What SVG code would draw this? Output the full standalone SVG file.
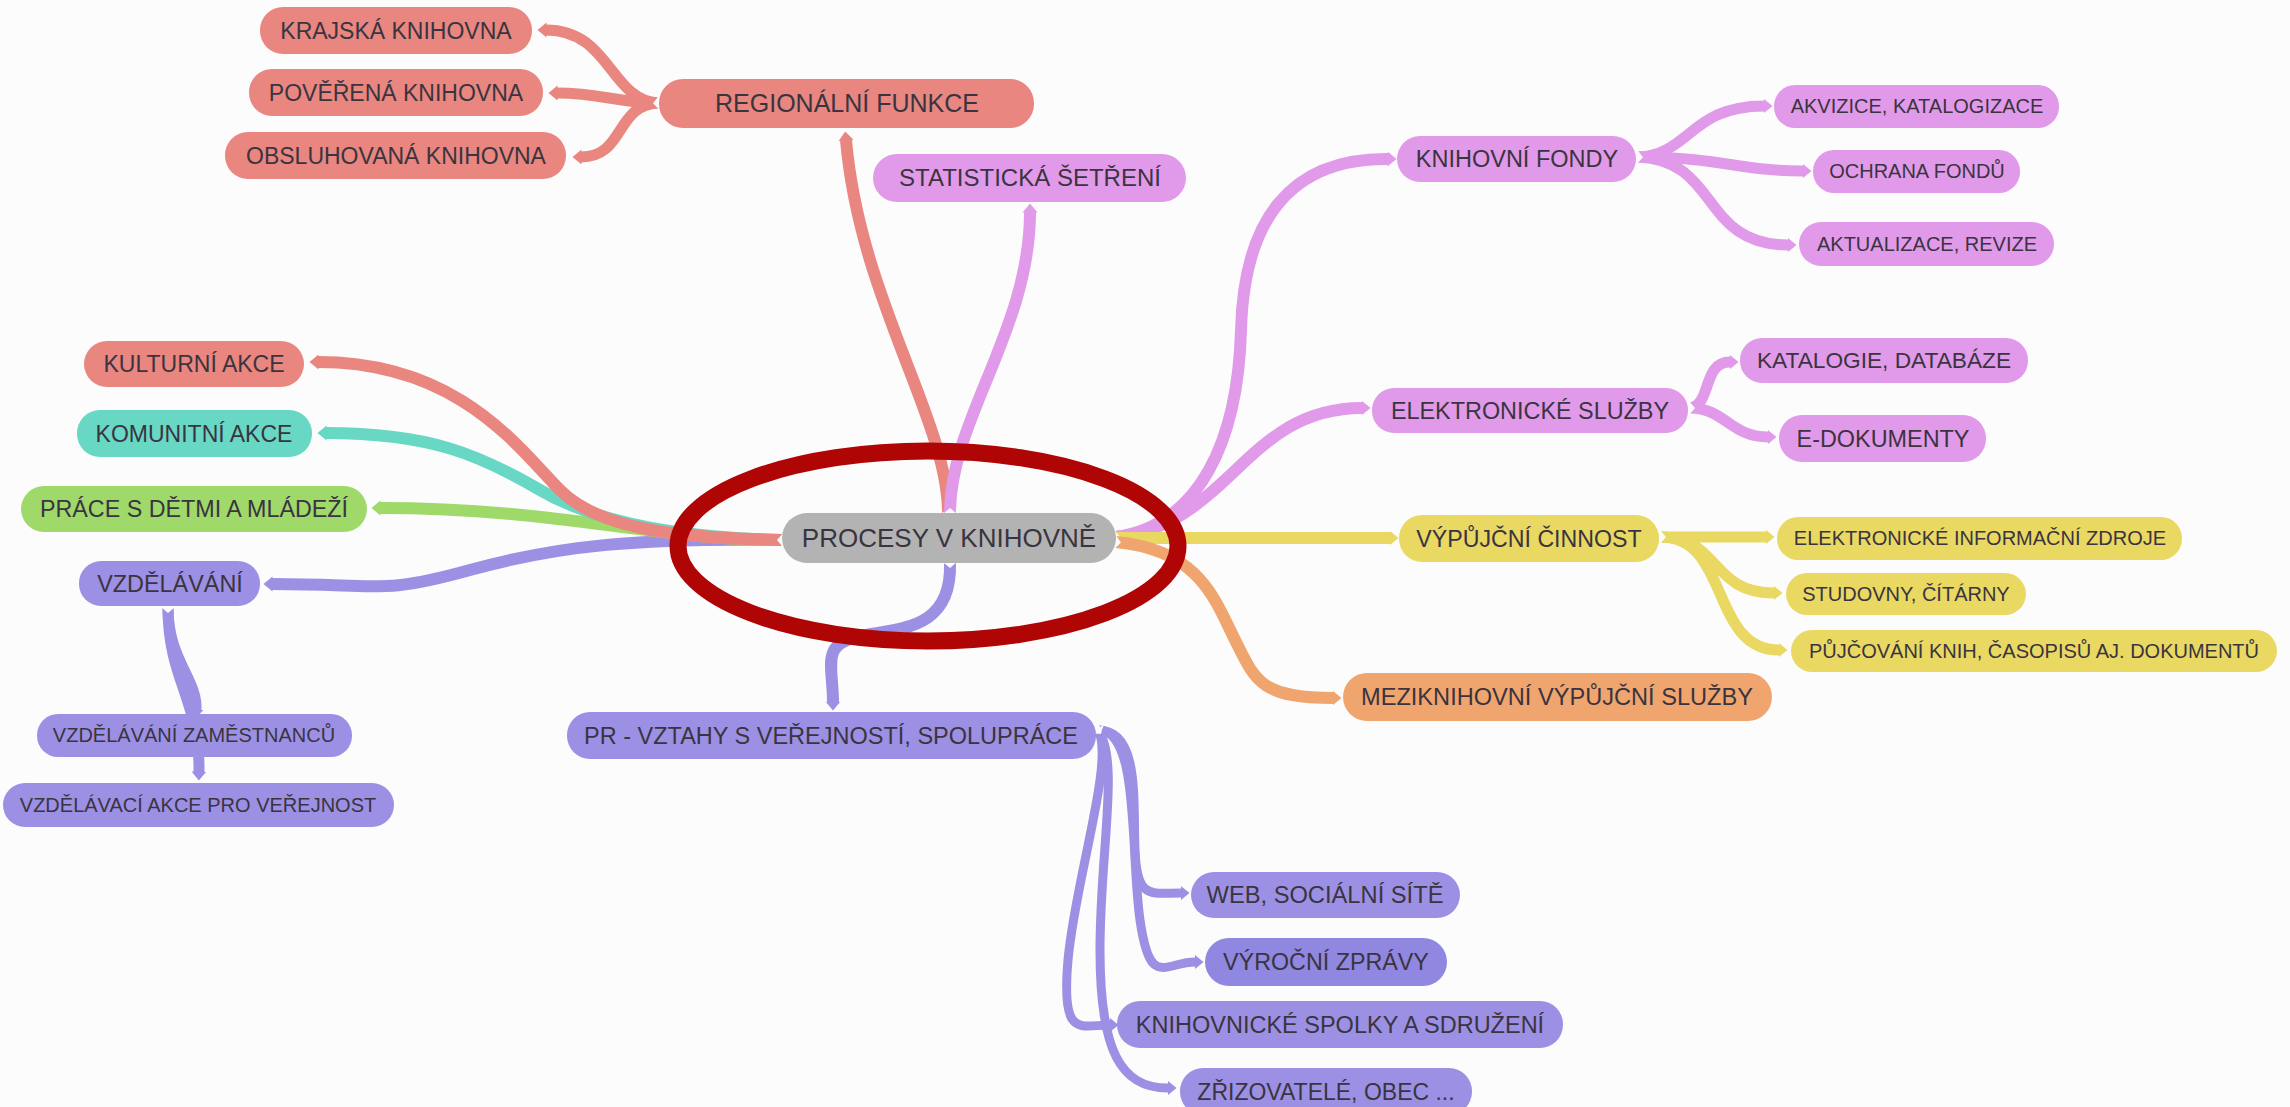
<svg xmlns="http://www.w3.org/2000/svg" width="2290" height="1107" viewBox="0 0 2290 1107">
<defs>
<style>
.t{font-family:"Liberation Sans",Arial,sans-serif;fill:#3a3440;text-anchor:middle}
.c{fill:none;stroke-linecap:butt}
.red{fill:#e8867f}.pink{fill:#e19ae9}.teal{fill:#68d8c5}.green{fill:#9fd96a}.yel{fill:#e9d862}.ora{fill:#f0a56f}.pur{fill:#9c90e4}.gray{fill:#b3b3b3}
.sr{stroke:#e8867f}.sp{stroke:#e19ae9}.st{stroke:#68d8c5}.sg{stroke:#9fd96a}.sy{stroke:#e9d862}.so{stroke:#f0a56f}.su{stroke:#9c90e4}
</style>
<marker id="n" markerUnits="userSpaceOnUse" viewBox="-1 -8 10 16" markerWidth="10" markerHeight="16" refX="0" refY="0" orient="auto"><path d="M-1,-7 L5,0 L-1,7Z" fill="#fcfcfc"/></marker>
<marker id="mr" markerUnits="userSpaceOnUse" viewBox="0 -8 10 16" markerWidth="10" markerHeight="16" refX="0.5" refY="0" orient="auto"><path d="M0,-7.5 L9,0 L0,7.5Z" fill="#e8867f"/></marker>
<marker id="mp" markerUnits="userSpaceOnUse" viewBox="0 -8 10 16" markerWidth="10" markerHeight="16" refX="0.5" refY="0" orient="auto"><path d="M0,-7.5 L9,0 L0,7.5Z" fill="#e19ae9"/></marker>
<marker id="mt" markerUnits="userSpaceOnUse" viewBox="0 -8 10 16" markerWidth="10" markerHeight="16" refX="0.5" refY="0" orient="auto"><path d="M0,-7.5 L9,0 L0,7.5Z" fill="#68d8c5"/></marker>
<marker id="mg" markerUnits="userSpaceOnUse" viewBox="0 -8 10 16" markerWidth="10" markerHeight="16" refX="0.5" refY="0" orient="auto"><path d="M0,-7.5 L9,0 L0,7.5Z" fill="#9fd96a"/></marker>
<marker id="my" markerUnits="userSpaceOnUse" viewBox="0 -8 10 16" markerWidth="10" markerHeight="16" refX="0.5" refY="0" orient="auto"><path d="M0,-7.5 L9,0 L0,7.5Z" fill="#e9d862"/></marker>
<marker id="mo" markerUnits="userSpaceOnUse" viewBox="0 -8 10 16" markerWidth="10" markerHeight="16" refX="0.5" refY="0" orient="auto"><path d="M0,-7.5 L9,0 L0,7.5Z" fill="#f0a56f"/></marker>
<marker id="mu" markerUnits="userSpaceOnUse" viewBox="0 -8 10 16" markerWidth="10" markerHeight="16" refX="0.5" refY="0" orient="auto"><path d="M0,-7.5 L9,0 L0,7.5Z" fill="#9c90e4"/></marker>
</defs>
<rect width="2290" height="1107" fill="#fcfcfc"/>
<g id="connectors" stroke-width="12">
<path class="c su" marker-start="url(#n)" marker-end="url(#mu)" d="M782 540 C640 538,560 545,470 570 S380 584,272 584"/>
<path class="c sg" marker-start="url(#n)" marker-end="url(#mg)" d="M782 540 C650 540,560 508,380 508"/>
<path class="c st" marker-start="url(#n)" marker-end="url(#mt)" d="M782 540 C690 538,600 525,540 490 S430 433,326 433"/>
<path class="c sr" marker-start="url(#n)" marker-end="url(#mr)" d="M782 540 C680 538,600 530,560 490 S460 362,318 362"/>
<path class="c sr" marker-start="url(#n)" marker-end="url(#mr)" d="M948 513 C948 420,860 300,846 140"/>
<path class="c sp" marker-start="url(#n)" marker-end="url(#mp)" d="M950 513 C950 420,1030 330,1030 212"/>
<path class="c sp" marker-start="url(#n)" marker-end="url(#mp)" d="M1116 537 C1200 525,1238 440,1241 330 S1290 158,1388 159"/>
<path class="c sp" marker-start="url(#n)" marker-end="url(#mp)" d="M1116 537 C1230 525,1245 408,1362 408"/>
<path class="c sy" marker-start="url(#n)" marker-end="url(#my)" d="M1116 538 L1390 538"/>
<path class="c so" marker-start="url(#n)" marker-end="url(#mo)" d="M1116 542 C1200 550,1215 600,1235 640 S1260 698,1333 698"/>
<path class="c su" marker-start="url(#n)" marker-end="url(#mu)" d="M950 563 C952 630,900 628,860 636 S833 665,833 702"/>
<g stroke-width="11">
<path class="c sr" marker-start="url(#n)" marker-end="url(#mr)" d="M658 103 C610 100,610 30,546 30"/>
<path class="c sr" marker-start="url(#n)" marker-end="url(#mr)" d="M658 103 C620 103,600 93,557 93"/>
<path class="c sr" marker-start="url(#n)" marker-end="url(#mr)" d="M658 103 C615 105,625 157,581 157"/>
<path class="c sp" marker-start="url(#n)" marker-end="url(#mp)" d="M1638 157 C1690 155,1690 106,1764 106"/>
<path class="c sp" marker-start="url(#n)" marker-end="url(#mp)" d="M1638 157 C1720 157,1740 171,1803 171"/>
<path class="c sp" marker-start="url(#n)" marker-end="url(#mp)" d="M1638 157 C1720 160,1700 245,1788 245"/>
<path class="c sp" marker-start="url(#n)" marker-end="url(#mp)" d="M1690 408 C1712 405,1702 362,1730 362"/>
<path class="c sp" marker-start="url(#n)" marker-end="url(#mp)" d="M1690 408 C1725 408,1730 437,1768 437"/>
<path class="c sy" marker-start="url(#n)" marker-end="url(#my)" d="M1661 537 L1766 537"/>
<path class="c sy" marker-start="url(#n)" marker-end="url(#my)" d="M1661 537 C1720 537,1710 593,1774 593"/>
<path class="c sy" marker-start="url(#n)" marker-end="url(#my)" d="M1661 537 C1730 537,1710 650,1779 650"/>
<path class="c su" marker-start="url(#n)" marker-end="url(#mu)" d="M168 608 C168 660,198 680,196 710"/>
<path class="c su" marker-start="url(#n)" marker-end="url(#mu)" d="M168 608 C168 680,200 700,199 772"/>
</g>
<g stroke-width="9">
<path class="c su" marker-start="url(#n)" marker-end="url(#mu)" d="M1098 730 C1140 730,1133 800,1135 850 S1150 893,1181 893"/>
<path class="c su" marker-start="url(#n)" marker-end="url(#mu)" d="M1098 730 C1140 730,1130 850,1140 920 S1165 962,1195 962"/>
<path class="c su" marker-start="url(#n)" marker-end="url(#mu)" d="M1098 730 C1115 760,1075 880,1068 960 S1080 1025,1110 1025"/>
<path class="c su" marker-start="url(#n)" marker-end="url(#mu)" d="M1098 730 C1120 760,1100 850,1100 950 S1120 1088,1168 1088"/>
</g>
</g>
<ellipse cx="928" cy="546" rx="250" ry="95" fill="none" stroke="#b00505" stroke-width="17"/>
<g id="center"><rect class="gray" x="782" y="513" width="334" height="50" rx="25"/><text class="t" x="949" y="547" font-size="26">PROCESY V KNIHOVNĚ</text></g>
<g id="regionalni"><rect class="red" x="659" y="79" width="375" height="49" rx="24"/><text class="t" x="847" y="112" font-size="25">REGIONÁLNÍ FUNKCE</text></g>
<g id="krajska"><rect class="red" x="260" y="7" width="272" height="47" rx="23"/><text class="t" x="396" y="39" font-size="23">KRAJSKÁ KNIHOVNA</text></g>
<g id="poverena"><rect class="red" x="249" y="69" width="294" height="47" rx="23"/><text class="t" x="396" y="101" font-size="23">POVĚŘENÁ KNIHOVNA</text></g>
<g id="obsluhovana"><rect class="red" x="225" y="132" width="341" height="47" rx="23"/><text class="t" x="396" y="164" font-size="23">OBSLUHOVANÁ KNIHOVNA</text></g>
<g id="statisticka"><rect class="pink" x="873" y="154" width="313" height="48" rx="24"/><text class="t" x="1030" y="186" font-size="24">STATISTICKÁ ŠETŘENÍ</text></g>
<g id="fondy"><rect class="pink" x="1397" y="136" width="239" height="46" rx="23"/><text class="t" x="1517" y="167" font-size="23.5">KNIHOVNÍ FONDY</text></g>
<g id="akvizice"><rect class="pink" x="1774" y="85" width="285" height="43" rx="21"/><text class="t" x="1917" y="113" font-size="20">AKVIZICE, KATALOGIZACE</text></g>
<g id="ochrana"><rect class="pink" x="1813" y="150" width="207" height="43" rx="21"/><text class="t" x="1917" y="178" font-size="20">OCHRANA FONDŮ</text></g>
<g id="aktualizace"><rect class="pink" x="1799" y="222" width="255" height="44" rx="22"/><text class="t" x="1927" y="251" font-size="20">AKTUALIZACE, REVIZE</text></g>
<g id="elsluzby"><rect class="pink" x="1372" y="388" width="316" height="45" rx="22"/><text class="t" x="1530" y="419" font-size="23.4">ELEKTRONICKÉ SLUŽBY</text></g>
<g id="katalogie"><rect class="pink" x="1740" y="338" width="288" height="45" rx="22"/><text class="t" x="1884" y="368" font-size="22.7">KATALOGIE, DATABÁZE</text></g>
<g id="edokumenty"><rect class="pink" x="1779" y="415" width="207" height="47" rx="23"/><text class="t" x="1883" y="447" font-size="23.4">E-DOKUMENTY</text></g>
<g id="vypujcni"><rect class="yel" x="1399" y="515" width="260" height="47" rx="23"/><text class="t" x="1529" y="547" font-size="23.2">VÝPŮJČNÍ ČINNOST</text></g>
<g id="eiz"><rect class="yel" x="1777" y="517" width="405" height="43" rx="21"/><text class="t" x="1980" y="545" font-size="20">ELEKTRONICKÉ INFORMAČNÍ ZDROJE</text></g>
<g id="studovny"><rect class="yel" x="1786" y="573" width="240" height="42" rx="21"/><text class="t" x="1906" y="601" font-size="20">STUDOVNY, ČÍTÁRNY</text></g>
<g id="pujcovani"><rect class="yel" x="1791" y="630" width="486" height="42" rx="21"/><text class="t" x="2034" y="658" font-size="20">PŮJČOVÁNÍ KNIH, ČASOPISŮ AJ. DOKUMENTŮ</text></g>
<g id="mvs"><rect class="ora" x="1343" y="673" width="429" height="48" rx="24"/><text class="t" x="1557" y="705" font-size="23.6">MEZIKNIHOVNÍ VÝPŮJČNÍ SLUŽBY</text></g>
<g id="pr"><rect class="pur" x="567" y="712" width="529" height="47" rx="23"/><text class="t" x="831" y="744" font-size="23.5">PR - VZTAHY S VEŘEJNOSTÍ, SPOLUPRÁCE</text></g>
<g id="web"><rect class="pur" x="1191" y="872" width="269" height="46" rx="23"/><text class="t" x="1325" y="903" font-size="23.7">WEB, SOCIÁLNÍ SÍTĚ</text></g>
<g id="vyrocni"><rect fill="#9087e0" x="1205" y="938" width="242" height="48" rx="24"/><text class="t" x="1326" y="970" font-size="23.3">VÝROČNÍ ZPRÁVY</text></g>
<g id="spolky"><rect class="pur" x="1117" y="1001" width="446" height="47" rx="23"/><text class="t" x="1340" y="1033" font-size="23.5">KNIHOVNICKÉ SPOLKY A SDRUŽENÍ</text></g>
<g id="zrizovatele"><rect class="pur" x="1180" y="1068" width="292" height="47" rx="23"/><text class="t" x="1326" y="1100" font-size="23">ZŘIZOVATELÉ, OBEC ...</text></g>
<g id="kulturni"><rect class="red" x="84" y="341" width="220" height="46" rx="23"/><text class="t" x="194" y="372" font-size="23">KULTURNÍ AKCE</text></g>
<g id="komunitni"><rect class="teal" x="77" y="410" width="235" height="47" rx="23"/><text class="t" x="194" y="442" font-size="23">KOMUNITNÍ AKCE</text></g>
<g id="prace"><rect class="green" x="21" y="486" width="346" height="46" rx="23"/><text class="t" x="194" y="517" font-size="23.3">PRÁCE S DĚTMI A MLÁDEŽÍ</text></g>
<g id="vzdelavani"><rect class="pur" x="79" y="561" width="181" height="45" rx="22"/><text class="t" x="170" y="592" font-size="23.4">VZDĚLÁVÁNÍ</text></g>
<g id="vzdzam"><rect class="pur" x="37" y="714" width="315" height="43" rx="21"/><text class="t" x="194" y="742" font-size="20">VZDĚLÁVÁNÍ ZAMĚSTNANCŮ</text></g>
<g id="vzdakce"><rect class="pur" x="3" y="783" width="391" height="44" rx="22"/><text class="t" x="198" y="812" font-size="20">VZDĚLÁVACÍ AKCE PRO VEŘEJNOST</text></g>
</svg>
